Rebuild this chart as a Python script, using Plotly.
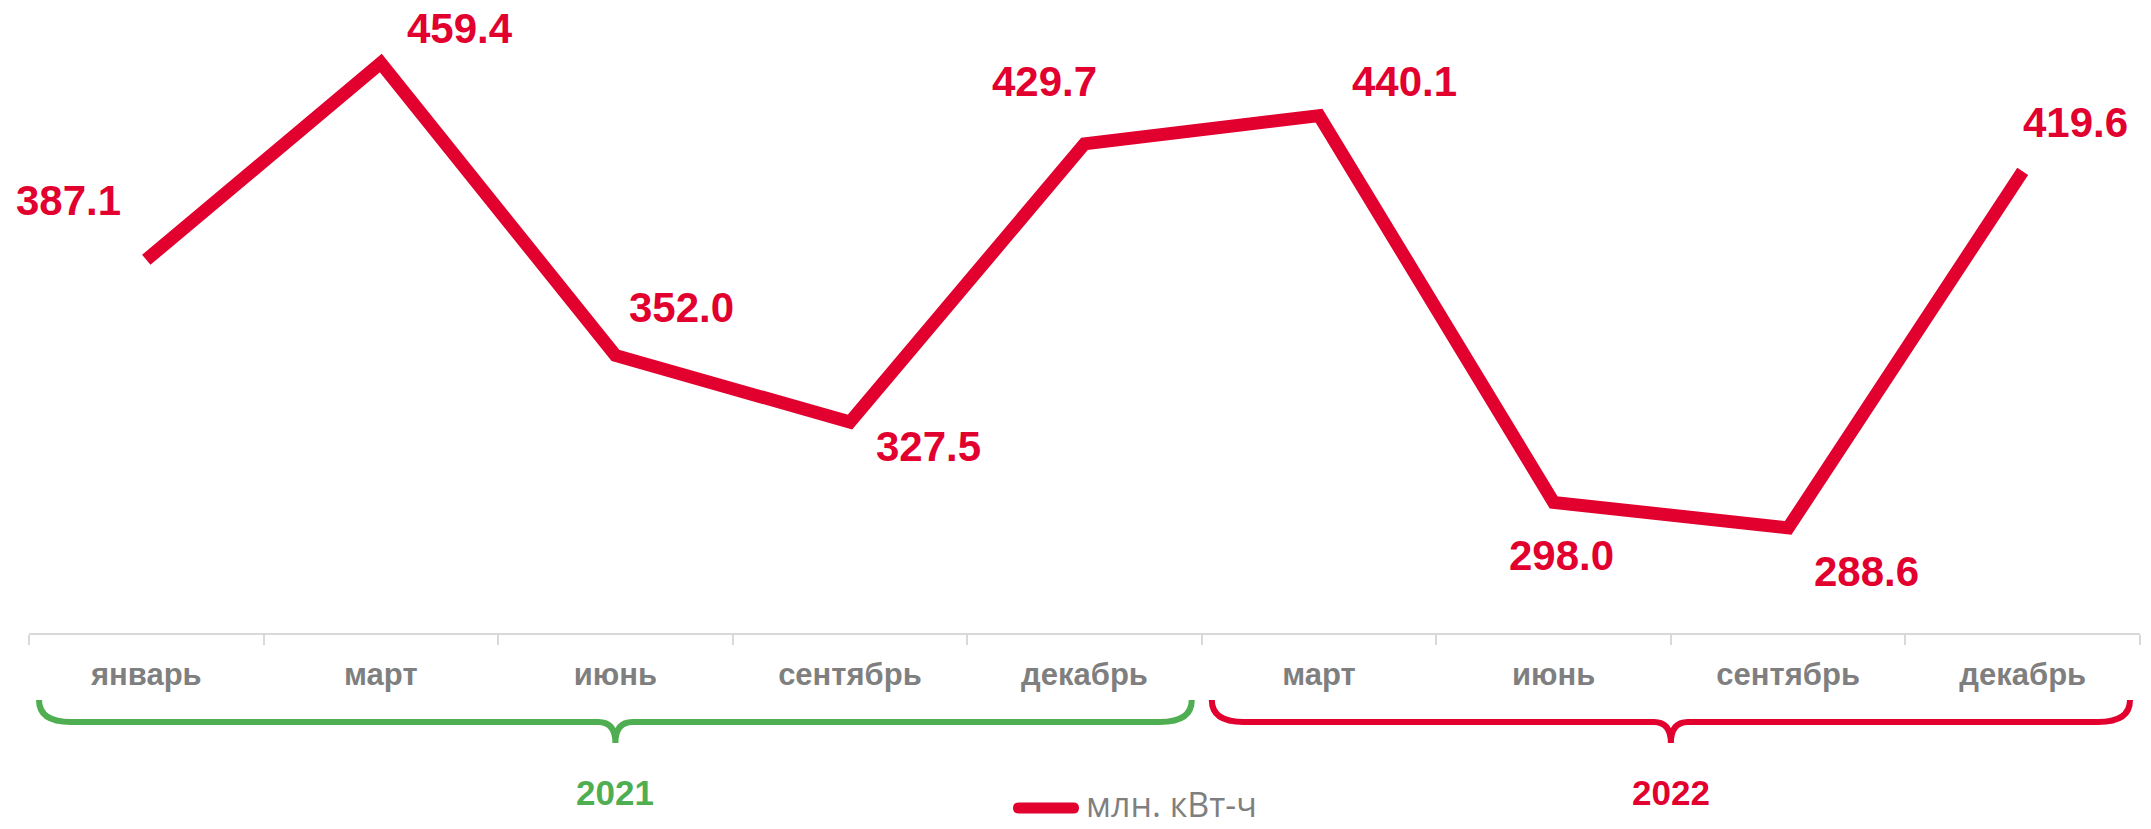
import plotly.graph_objects as go

# ---------------- data ----------------
months = ["январь", "март", "июнь", "сентябрь", "декабрь",
          "март", "июнь", "сентябрь", "декабрь"]
values = [387.1, 459.4, 352.0, 327.5, 429.7, 440.1, 298.0, 288.6, 419.6]
series_name = "млн. кВт-ч"
years = ["2021", "2022"]
year_first_idx = [0, 5]      # first category index of each year
year_last_idx = [4, 8]       # last category index of each year

# ---------------- styles ----------------
RED = "#E2002F"
GREEN = "#4EAE51"
GRAY = "#7F7F7F"
AXIS = "#D9D9D9"
year_colors = [GREEN, RED]

W, H = 2151, 829
ML, MR, MT, MB = 29, 11, 7, 196
PW = W - ML - MR
PH = H - MT - MB
YR = [250, 480]
N = len(months)

# label offsets (px) relative to each point: (dx, dy) with dy downwards
label_dx = [-78, 79, 66, 79, -40, 85, 8, 78, 53]
label_dy = [-59, -35, -48, 24, -62, -34, 53, 44, -49]

x_idx = list(range(N))

fig = go.Figure()
fig.add_trace(go.Scatter(
    x=x_idx, y=values, mode="lines", name=series_name,
    line=dict(color=RED, width=13), showlegend=False,
    hoverinfo="skip",
))

# value labels
for i, v in enumerate(values):
    fig.add_annotation(
        x=i, y=v, xref="x", yref="y", text=f"{v:.1f}", showarrow=False,
        xshift=label_dx[i], yshift=-label_dy[i],
        font=dict(family="Liberation Sans, Arial, sans-serif", size=42,
                  color=RED, weight="bold"),
        xanchor="center", yanchor="middle",
    )

# helpers: axis index -> paper, pixel -> paper
def idx_to_paper(v):
    return (v + 0.5) / N

def px_to_paper_x(dx):
    return dx / PW

def pxx(xpx):
    return (xpx - ML) / PW

def py(ypx):
    return (MT + PH - ypx) / PH

# braces
y_top, y_mid, y_tip = py(700), py(722), py(743)
rx = px_to_paper_x(32)
rx2 = px_to_paper_x(17)
inset = px_to_paper_x(10)
for k, yr in enumerate(years):
    a = idx_to_paper(year_first_idx[k] - 0.5) + inset
    b = idx_to_paper(year_last_idx[k] + 0.5) - inset
    m = (a + b) / 2
    path = (f"M{a},{y_top} Q{a},{y_mid} {a+rx},{y_mid} "
            f"L{m-rx2},{y_mid} Q{m},{y_mid} {m},{y_tip} "
            f"Q{m},{y_mid} {m+rx2},{y_mid} "
            f"L{b-rx},{y_mid} Q{b},{y_mid} {b},{y_top}")
    fig.add_shape(type="path", path=path, xref="paper", yref="paper",
                  line=dict(color=year_colors[k], width=6))
    fig.add_annotation(
        x=m, y=py(792), xref="paper", yref="paper", text=yr,
        showarrow=False, xanchor="center", yanchor="middle",
        font=dict(family="Liberation Sans, Arial, sans-serif", size=35,
                  color=year_colors[k], weight="bold"),
    )

# legend (drawn manually: rounded line sample + text)
lx0, lx1, lyc, lh = 1013, 1079, 808, 11
r = lh / 2
x0, x1 = pxx(lx0), pxx(lx1)
xr = px_to_paper_x(r)
yt, yb, ym = py(lyc - r), py(lyc + r), py(lyc)
legend_path = (f"M{x0+xr},{yt} L{x1-xr},{yt} Q{x1},{yt} {x1},{ym} "
               f"Q{x1},{yb} {x1-xr},{yb} L{x0+xr},{yb} Q{x0},{yb} {x0},{ym} "
               f"Q{x0},{yt} {x0+xr},{yt} Z")
fig.add_shape(type="path", path=legend_path, xref="paper", yref="paper",
              fillcolor=RED, line=dict(width=0))
fig.add_annotation(
    x=pxx(1085), y=py(804), xref="paper", yref="paper", text=series_name,
    showarrow=False, xanchor="left", yanchor="middle", borderpad=0,
    font=dict(family="Open Sans, sans-serif", size=34, color=GRAY),
)

fig.update_layout(
    width=W, height=H,
    margin=dict(l=ML, r=MR, t=MT, b=MB, autoexpand=False),
    paper_bgcolor="white", plot_bgcolor="white",
    showlegend=False,
    xaxis=dict(
        range=[-0.5, N - 0.5], tickmode="array", tickvals=x_idx,
        ticktext=months, showgrid=False, zeroline=False,
        showline=True, linecolor=AXIS, linewidth=2,
        ticks="", ticklabelstandoff=13, automargin=False,
        minor=dict(tickmode="linear", tick0=-0.5, dtick=1,
                   ticks="outside", ticklen=10, tickcolor=AXIS,
                   tickwidth=2, showgrid=False),
        tickfont=dict(family="Liberation Sans, Arial, sans-serif", size=31,
                      color=GRAY, weight="bold"),
    ),
    yaxis=dict(range=YR, visible=False, showgrid=False, zeroline=False,
               automargin=False),
)

fig.write_html(
    "out.html",
    config={"displayModeBar": False},
    post_script="document.body.style.margin='0';document.body.style.overflow='hidden';",
)
